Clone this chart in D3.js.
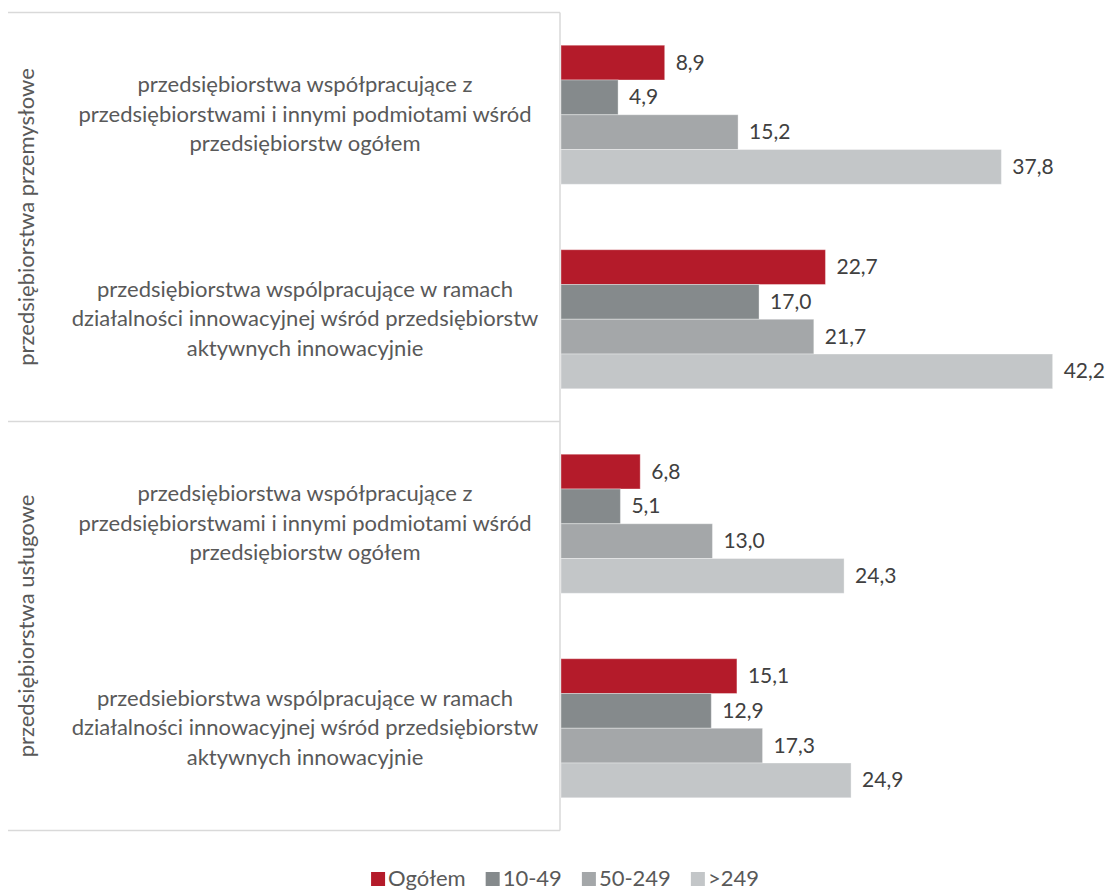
<!DOCTYPE html>
<html>
<head>
<meta charset="utf-8">
<script src="https://cdn.jsdelivr.net/npm/d3@7"></script>
<style>
  body { margin: 0; background: #fff; }
  text { font-family: Lato, "Open Sans", sans-serif; }
</style>
</head>
<body>
<script>
// chart data
var groups = ["przedsiębiorstwa przemysłowe", "przedsiębiorstwa usługowe"];
var categories = [
  ["przedsiębiorstwa współpracujące z", "przedsiębiorstwami i innymi podmiotami wśród", "przedsiębiorstw ogółem"],
  ["przedsiębiorstwa wspólpracujące w ramach", "działalności innowacyjnej wśród przedsiębiorstw", "aktywnych innowacyjnie"],
  ["przedsiębiorstwa współpracujące z", "przedsiębiorstwami i innymi podmiotami wśród", "przedsiębiorstw ogółem"],
  ["przedsiebiorstwa wspólpracujące w ramach", "działalności innowacyjnej wśród przedsiębiorstw", "aktywnych innowacyjnie"]
];
var seriesNames = ["Ogółem", "10-49", "50-249", ">249"];
var ogolem = [8.9, 22.7, 6.8, 15.1];
var s10_49 = [4.9, 17.0, 5.1, 12.9];
var s50_249 = [15.2, 21.7, 13.0, 17.3];
var s249 = [37.8, 42.2, 24.3, 24.9];
var colors = ["#b41b2a", "#858a8c", "#a4a7a9", "#c3c6c8"];

var series = [ogolem, s10_49, s50_249, s249];

var width = 1109, height = 890;
var axisX = 560, plotTop = 12.5, plotBottom = 830.5, left = 8;
var fontSize = "22px";

var svg = d3.select("body").append("svg")
    .attr("width", width)
    .attr("height", height);

var fmt = d3.formatLocale({decimal: ",", thousands: " ", grouping: [3], currency: ["", ""]}).format(".1f");

// scales
var xScale = d3.scaleLinear().domain([0, 45]).range([axisX + 1, axisX + 1 + 45 * 11.65]);

var yScale = d3.scaleBand()
    .domain(d3.range(categories.length))
    .range([plotTop, plotBottom])
    .paddingInner(0.32)
    .paddingOuter(0.16);

var ySub = d3.scaleBand()
    .domain(d3.range(seriesNames.length))
    .range([0, yScale.bandwidth()]);

// category axis lines (multi-level)
var lineColor = "#d9d9d9";
var groupStep = (plotBottom - plotTop) / groups.length;
d3.range(groups.length + 1).forEach(function(i) {
    svg.append("line")
        .attr("x1", left).attr("x2", axisX)
        .attr("y1", plotTop + i * groupStep).attr("y2", plotTop + i * groupStep)
        .attr("stroke", lineColor).attr("stroke-width", 1.5);
});
svg.append("line")
    .attr("x1", axisX).attr("x2", axisX)
    .attr("y1", plotTop).attr("y2", plotBottom)
    .attr("stroke", lineColor).attr("stroke-width", 1.5);

// outer group labels
groups.forEach(function(g, i) {
    var cy = plotTop + (i + 0.5) * groupStep;
    svg.append("text")
        .attr("transform", "translate(34," + cy + ") rotate(-90)")
        .attr("text-anchor", "middle")
        .attr("fill", "#595959")
        .attr("font-size", fontSize)
        .text(g);
});

// inner category labels
categories.forEach(function(lines, i) {
    var cy = yScale(i) + yScale.bandwidth() / 2;
    var t = svg.append("text")
        .attr("text-anchor", "middle")
        .attr("fill", "#595959")
        .attr("font-size", fontSize);
    lines.forEach(function(l, k) {
        t.append("tspan")
            .attr("x", 305)
            .attr("y", cy + (k - 1) * 29.5 + 7)
            .text(l);
    });
});

// bars
series.forEach(function(vals, s) {
    var g = svg.append("g").attr("class", "series");
    g.selectAll("rect")
        .data(vals)
        .enter().append("rect")
        .attr("x", xScale(0))
        .attr("y", function(d, i) { return yScale(i) + ySub(s); })
        .attr("width", function(d) { return xScale(d) - xScale(0); })
        .attr("height", ySub.bandwidth())
        .attr("fill", colors[s])
        .attr("stroke", "rgba(255,255,255,0.35)")
        .attr("stroke-width", 1);

    g.selectAll("text")
        .data(vals)
        .enter().append("text")
        .attr("x", function(d) { return xScale(d) + 11; })
        .attr("y", function(d, i) { return yScale(i) + ySub(s) + ySub.bandwidth() / 2 + 7; })
        .attr("fill", "#404040")
        .attr("font-size", "21px")
        .text(function(d) { return fmt(d); });
});

// legend, laid out from text widths and centred
var legend = svg.append("g");
var cursor = 0;
seriesNames.forEach(function(n, i) {
    var item = legend.append("g").attr("transform", "translate(" + cursor + ",0)");
    item.append("rect")
        .attr("x", 0).attr("y", -14)
        .attr("width", 14).attr("height", 14)
        .attr("fill", colors[i]);
    var t = item.append("text")
        .attr("x", 17).attr("y", 0)
        .attr("fill", "#595959")
        .attr("font-size", fontSize)
        .text(n);
    cursor += 17 + t.node().getComputedTextLength() + 20;
});
var legW = cursor - 20;
legend.attr("transform", "translate(" + (565 - legW / 2) + ",886)");
</script>
</body>
</html>
